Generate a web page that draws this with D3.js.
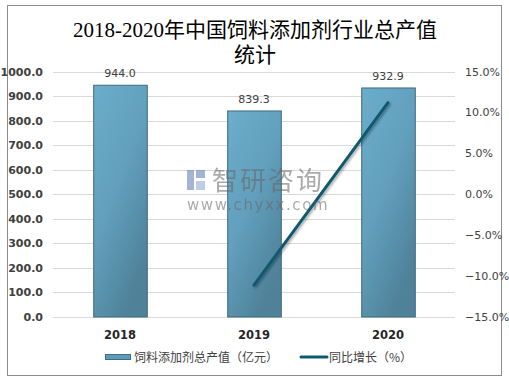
<!DOCTYPE html>
<html><head><meta charset="utf-8">
<script src="https://cdn.jsdelivr.net/npm/d3@7"></script>
<style>body{margin:0;background:#fff}svg{display:block}</style>
</head><body>
<svg id="c" width="509" height="380"></svg>
<script>
const categories = ["2018", "2019", "2020"];
const outputValues = [944.0, 839.3, 932.9];
const growthValues = [null, -11.1, 11.2];
const leftTicks = [0,100,200,300,400,500,600,700,800,900,1000];
const rightTicks = [-15,-10,-5,0,5,10,15];
const titleLines = ["2018-2020年中国饲料添加剂行业总产值", "统计"];
const legendLabels = ["饲料添加剂总产值（亿元）", "同比增长（%）"];

const svg = d3.select("#c");
const defs = svg.append("defs");
const g = defs.append("linearGradient").attr("id","bg").attr("x1","0").attr("y1","0").attr("x2","0.6").attr("y2","1");
g.append("stop").attr("offset","0").attr("stop-color","#6badcb");
g.append("stop").attr("offset","0.5").attr("stop-color","#62a0bd");
g.append("stop").attr("offset","1").attr("stop-color","#4f8198");
const sh = defs.append("filter").attr("id","sh").attr("x","-20%").attr("y","-20%").attr("width","140%").attr("height","140%");
sh.append("feDropShadow").attr("dx",1.5).attr("dy",1.5).attr("stdDeviation",1).attr("flood-color","#000").attr("flood-opacity",0.35);

// border
svg.append("rect").attr("x",7.5).attr("y",5.5).attr("width",494).attr("height",370).attr("fill","#fff").attr("stroke","#8c8c8c").attr("stroke-width",1);

// title
const title = svg.append("text").attr("text-anchor","middle").attr("font-family","'Liberation Serif','Noto Sans CJK SC',serif").attr("font-size",21).attr("fill","#000");
title.append("tspan").attr("x",255).attr("y",37).text(titleLines[0]);
title.append("tspan").attr("x",255).attr("y",62).text(titleLines[1]);

const x0 = 53, x1 = 455, yTop = 71.5, yBot = 317;
const x = d3.scaleBand().domain(categories).range([x0,x1]).paddingInner(0.6).paddingOuter(0.3);
const xc = d3.scalePoint().domain(categories).range([x0,x1]).padding(0.5);
const yL = d3.scaleLinear().domain([0,1000]).range([yBot,yTop]);
const yR = d3.scaleLinear().domain([-15,15]).range([yBot,yTop]);

// gridlines
svg.append("g").selectAll("line").data(leftTicks).join("line")
  .attr("x1",x0).attr("x2",x1).attr("y1",d=>Math.round(yL(d))+0.5).attr("y2",d=>Math.round(yL(d))+0.5)
  .attr("stroke","#d9d9d9").attr("stroke-width",1);

// left axis
const la = svg.append("g").attr("transform",`translate(${x0},0)`)
  .call(d3.axisLeft(yL).tickValues(leftTicks).tickFormat(d3.format(".1f")).tickSize(0).tickPadding(10));
la.select(".domain").remove();
la.selectAll("text").attr("font-family","Tahoma,'DejaVu Sans',sans-serif").attr("font-size",11).attr("font-weight","bold").attr("fill","#404040");

// right axis
const ra = svg.append("g").attr("transform",`translate(${x1},0)`)
  .call(d3.axisRight(yR).tickValues(rightTicks).tickFormat(d=>d3.format(".1f")(d)+"%").tickSize(0).tickPadding(10));
ra.select(".domain").remove();
ra.selectAll("text").attr("font-family","'DejaVu Sans',sans-serif").attr("font-size",11).attr("fill","#404040");

// bars
svg.append("g").selectAll("rect").data(outputValues).join("rect")
  .attr("x",(d,i)=>x(categories[i])+0.5).attr("width",x.bandwidth())
  .attr("y",d=>yL(d)).attr("height",d=>yBot-yL(d))
  .attr("fill","url(#bg)").attr("stroke","#3e6c82").attr("stroke-width",1);

// bar labels
svg.append("g").selectAll("text").data(outputValues).join("text")
  .attr("x",(d,i)=>xc(categories[i])).attr("y",d=>yL(d)-8)
  .attr("text-anchor","middle").attr("font-family","'DejaVu Sans',sans-serif").attr("font-size",11).attr("fill","#404040")
  .text(d=>d3.format(".1f")(d));

// line
const pts = growthValues.map((v,i)=>({c:categories[i],v})).filter(d=>d.v!=null);
svg.append("path").datum(pts)
  .attr("d",d3.line().x(d=>xc(d.c)).y(d=>yR(d.v)))
  .attr("fill","none").attr("stroke","#0d5a70").attr("stroke-width",3).attr("stroke-linecap","round")
  .attr("filter","url(#sh)");

// category labels
svg.append("g").selectAll("text").data(categories).join("text")
  .attr("x",d=>xc(d)).attr("y",339).attr("text-anchor","middle")
  .attr("font-family","'DejaVu Sans',sans-serif").attr("font-size",11.5).attr("font-weight","bold").attr("fill","#262626")
  .text(d=>d);

// watermark
const wm = svg.append("g").attr("opacity",0.55);
wm.append("rect").attr("x",187).attr("y",170).attr("width",7).attr("height",20).attr("fill","#5b77b8");
wm.append("rect").attr("x",196).attr("y",170).attr("width",9).attr("height",8).attr("fill","#5b77b8");
wm.append("rect").attr("x",196).attr("y",181).attr("width",9).attr("height",9).attr("fill","#8aa4d6");
wm.append("text").attr("x",212).attr("y",190).attr("font-family","'Noto Sans CJK SC',sans-serif").attr("font-size",26).attr("fill","#666").attr("letter-spacing",2).text("智研咨询");
wm.append("text").attr("x",187).attr("y",210).attr("font-family","'DejaVu Sans',sans-serif").attr("font-size",15).attr("fill","#666").attr("letter-spacing",1.6).text("www.chyxx.com");

// legend
const lg = svg.append("g");
lg.append("rect").attr("x",105.5).attr("y",354.5).attr("width",25).attr("height",5).attr("fill","#5e9ab6").attr("stroke","#3e6c82");
lg.append("text").attr("x",134).attr("y",362).attr("font-family","'Noto Sans CJK SC',sans-serif").attr("font-size",12).attr("fill","#404040").text(legendLabels[0]);
lg.append("line").attr("x1",301).attr("x2",327).attr("y1",357).attr("y2",357).attr("stroke","#0d5a70").attr("stroke-width",3).attr("stroke-linecap","round");
lg.append("text").attr("x",329).attr("y",362).attr("font-family","'Noto Sans CJK SC',sans-serif").attr("font-size",12).attr("fill","#404040").text(legendLabels[1]);
</script>
</body></html>
